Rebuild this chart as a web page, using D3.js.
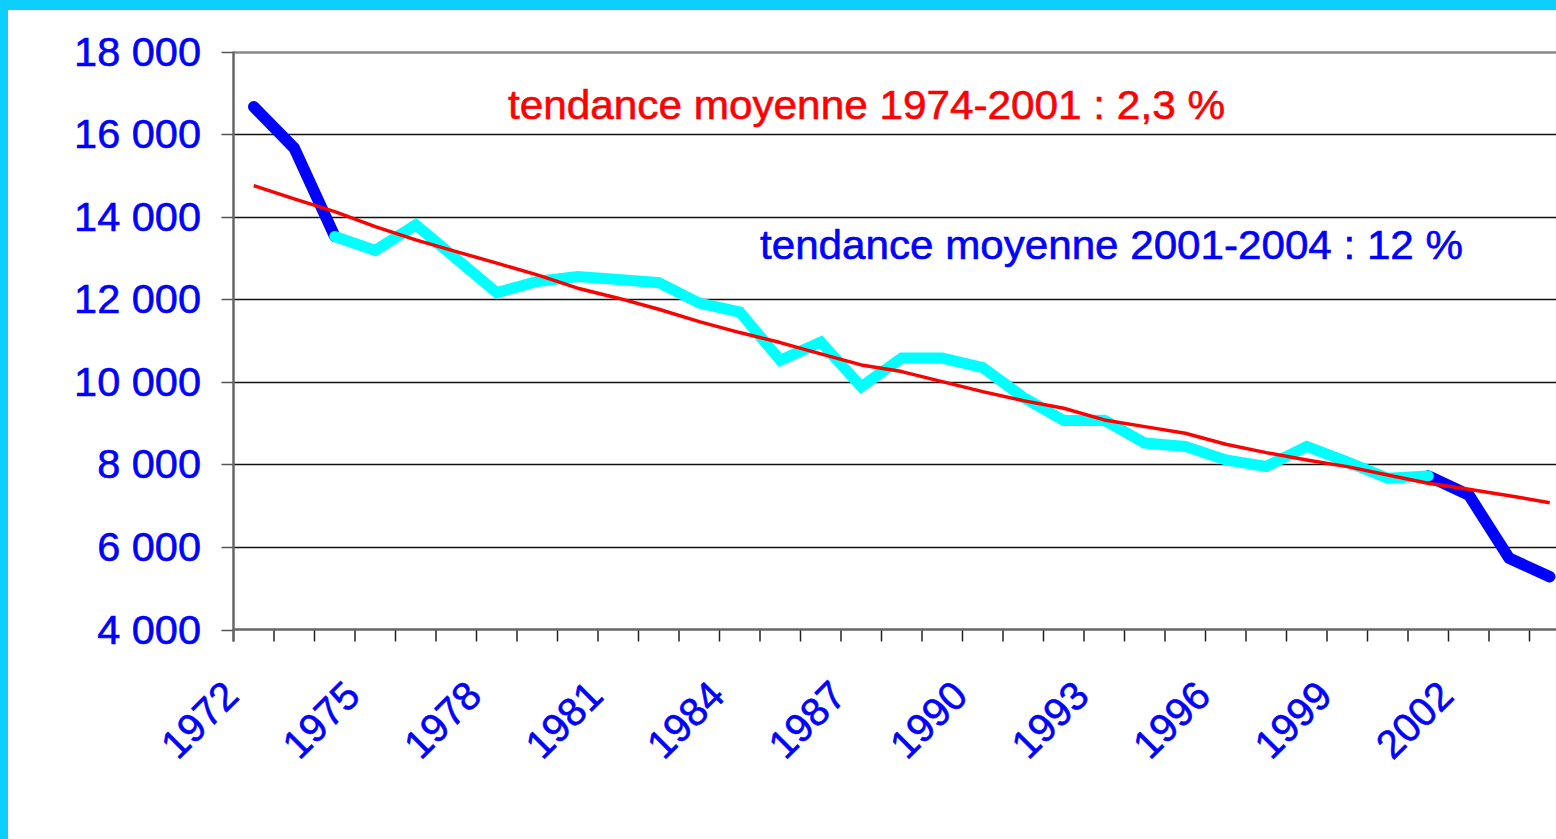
<!DOCTYPE html>
<html>
<head>
<meta charset="utf-8">
<script src="https://cdn.jsdelivr.net/npm/d3@7"></script>
<style>
  html, body { margin: 0; padding: 0; background: #fff; overflow: hidden; }
  svg { display: block; }
  text { font-family: "Liberation Sans", Arial, sans-serif; }
</style>
</head>
<body>
<svg id="chart" width="1556" height="839"></svg>
<script>
// ---- data ----
const years = [1972,1973,1974,1975,1976,1977,1978,1979,1980,1981,1982,1983,1984,1985,1986,1987,1988,1989,1990,1991,1992,1993,1994,1995,1996,1997,1998,1999,2000,2001,2002,2003,2004];
const values = [16660,15660,13520,13180,13800,12980,12160,12430,12550,12480,12400,11905,11690,10520,10960,9880,10575,10575,10345,9625,9060,9070,8515,8435,8107,7950,8435,8062,7664,7719,7259,5725,5279];
const trend = [14753,14430,14123,13760,13437,13154,12873,12590,12267,12025,11758,11458,11192,10950,10676,10409,10247,10004,9762,9544,9360,9076,8914,8754,8487,8284,8107,7945,7744,7542,7397,7242,7072];
const cyanStart = 1974, cyanEnd = 2001;
const yTicks = [4000,6000,8000,10000,12000,14000,16000,18000];
const yTickLabels = ["4 000","6 000","8 000","10 000","12 000","14 000","16 000","18 000"];
const xLabelYears = [1972,1975,1978,1981,1984,1987,1990,1993,1996,1999,2002];
const note1 = "tendance moyenne 1974-2001 : 2,3 %";
const note2 = "tendance moyenne 2001-2004 : 12 %";

// ---- layout ----
const svg = d3.select("#chart");
const left = 233.5, bandW = 40.5;
const x = d3.scaleBand().domain(years).range([left, left + years.length * bandW]).paddingInner(0).paddingOuter(0);
const cx = d => x(d) + x.bandwidth() / 2;
const y = d3.scaleLinear().domain([4000, 18000]).range([629.5, 51.5]);
const right = 1556;

// frame
svg.append("rect").attr("x",0).attr("y",0).attr("width",1556).attr("height",10).attr("fill","#0ccfff");
svg.append("rect").attr("x",0).attr("y",0).attr("width",8).attr("height",839).attr("fill","#0ccfff");

// gridlines
svg.append("g").selectAll("line").data(yTicks.filter(v => v > 4000)).join("line")
  .attr("x1", left).attr("x2", right)
  .attr("y1", d => Math.round(y(d)) + 0.5).attr("y2", d => Math.round(y(d)) + 0.5)
  .attr("stroke", d => d === 18000 ? "#888" : "#111")
  .attr("stroke-width", d => d === 18000 ? 2.5 : 1.3);

// y ticks
svg.append("g").selectAll("line").data(yTicks).join("line")
  .attr("x1", left - 12).attr("x2", left)
  .attr("y1", d => Math.round(y(d)) + 0.5).attr("y2", d => Math.round(y(d)) + 0.5)
  .attr("stroke", "#555").attr("stroke-width", 1.5);

// y labels
svg.append("g").selectAll("text").data(yTicks).join("text")
  .attr("x", 201).attr("y", d => y(d) + 14)
  .attr("text-anchor", "end")
  .attr("font-size", 41.5).attr("fill", "#0000ff")
  .attr("stroke", "#0000ff").attr("stroke-width", 0.6)
  .text((d, i) => yTickLabels[i]);

// x ticks at band boundaries
const bounds = years.map(d => x(d)).concat([x(years[years.length-1]) + x.bandwidth()]);
svg.append("g").selectAll("line").data(bounds).join("line")
  .attr("x1", d => d).attr("x2", d => d)
  .attr("y1", y(4000)).attr("y2", y(4000) + 12)
  .attr("stroke", "#222").attr("stroke-width", 1.5);

// axes lines
svg.append("line").attr("x1", left).attr("x2", right).attr("y1", y(4000)).attr("y2", y(4000))
  .attr("stroke", "#666").attr("stroke-width", 2.5);
svg.append("line").attr("x1", left).attr("x2", left).attr("y1", y(18000)).attr("y2", y(4000) + 12)
  .attr("stroke", "#666").attr("stroke-width", 2.5);

// x labels
svg.append("g").selectAll("text").data(xLabelYears).join("text")
  .attr("text-anchor", "end")
  .attr("font-size", 40).attr("fill", "#0000ff")
  .attr("stroke", "#0000ff").attr("stroke-width", 0.6)
  .attr("transform", d => `translate(${cx(d) - 13},${698}) rotate(-45)`)
  .text(d => String(d));

// series
const pts = years.map((yr, i) => ({yr, v: values[i], t: trend[i]}));
const line = d3.line().x(d => cx(d.yr)).y(d => y(d.v));
const tline = d3.line().x(d => cx(d.yr)).y(d => y(d.t));

const blue1 = pts.filter(d => d.yr <= cyanStart);
const blue2 = pts.filter(d => d.yr >= cyanEnd);
const cyan = pts.filter(d => d.yr >= cyanStart && d.yr <= cyanEnd);

[blue1, blue2].forEach(seg => {
  svg.append("path").attr("d", line(seg)).attr("fill", "none")
    .attr("stroke", "#0000ff").attr("stroke-width", 11.5)
    .attr("stroke-linejoin", "round").attr("stroke-linecap", "round");
});
svg.append("path").attr("d", line(cyan)).attr("fill", "none")
  .attr("stroke", "#00ffff").attr("stroke-width", 11)
  .attr("stroke-linejoin", "miter").attr("stroke-linecap", "round");
svg.append("path").attr("d", tline(pts)).attr("fill", "none")
  .attr("stroke", "#ff0000").attr("stroke-width", 3.5)
  .attr("stroke-linejoin", "round");

// annotations
svg.append("text").attr("x", 508).attr("y", 118.5)
  .attr("font-size", 41).attr("fill", "#ff0000")
  .attr("stroke", "#ff0000").attr("stroke-width", 0.6)
  .attr("textLength", 717).attr("lengthAdjust", "spacingAndGlyphs")
  .text(note1);
svg.append("text").attr("x", 760).attr("y", 258.5)
  .attr("font-size", 41).attr("fill", "#0000ff")
  .attr("stroke", "#0000ff").attr("stroke-width", 0.6)
  .attr("textLength", 703).attr("lengthAdjust", "spacingAndGlyphs")
  .text(note2);
</script>
</body>
</html>
